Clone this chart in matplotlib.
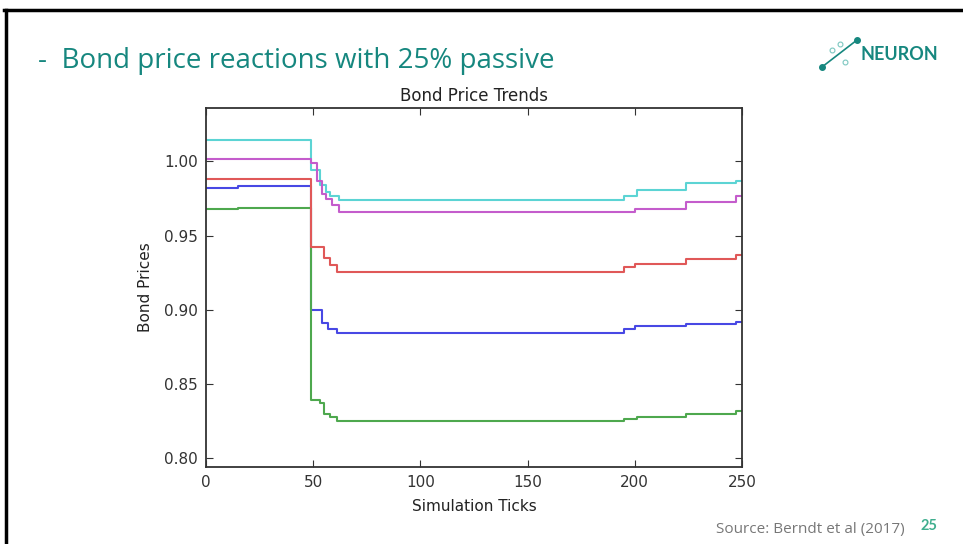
import matplotlib.pyplot as plt
from matplotlib.lines import Line2D

# slide text
slide_title = "-  Bond price reactions with 25% passive"
chart_title = "Bond Price Trends"
x_label = "Simulation Ticks"
y_label = "Bond Prices"
source = "Source: Berndt et al (2017)"
page_no = "25"
logo_text = "NEURON"

# change points of each price path (tick, price)
blue_t = [0, 15, 49, 54, 57, 61, 195, 200, 224, 247, 250]
blue_v = [0.9823, 0.9834, 0.8997, 0.8910, 0.8870, 0.8842, 0.8873, 0.8889, 0.8907, 0.8918, 0.8918]

green_t = [0, 15, 49, 53, 55, 58, 61, 195, 201, 224, 247, 250]
green_v = [0.9677, 0.9688, 0.8390, 0.8370, 0.8300, 0.8278, 0.8251, 0.8263, 0.8278, 0.8294, 0.8316, 0.8316]

red_t = [0, 49, 55, 58, 61, 195, 200, 224, 247, 250]
red_v = [0.9879, 0.9423, 0.9347, 0.9300, 0.9255, 0.9288, 0.9310, 0.9345, 0.9367, 0.9367]

cyan_t = [0, 49, 53, 56, 58, 62, 195, 201, 224, 247, 250]
cyan_v = [1.0141, 0.9940, 0.9838, 0.9793, 0.9770, 0.9742, 0.9770, 0.9810, 0.9857, 0.9867, 0.9867]

magenta_t = [0, 49, 52, 54, 56, 59, 62, 200, 224, 247, 250]
magenta_v = [1.0018, 0.9986, 0.9870, 0.9780, 0.9749, 0.9704, 0.9659, 0.9681, 0.9726, 0.9767, 0.9767]

x_ticks = [0, 50, 100, 150, 200, 250]
y_ticks = [0.80, 0.85, 0.90, 0.95, 1.00]

teal = "#16877f"

fig = plt.figure(figsize=(9.63, 5.44), dpi=100)
fig.patch.set_facecolor("white")

ax = fig.add_axes([206 / 963, 1 - 467 / 544, (742 - 206) / 963, (467 - 108) / 544])

series = [
    (blue_t, blue_v, "#4848e4"),
    (green_t, green_v, "#4ea84e"),
    (red_t, red_v, "#e05858"),
    (cyan_t, cyan_v, "#5cd4d4"),
    (magenta_t, magenta_v, "#c45ccc"),
]
for t, v, c in series:
    ax.step(t, v, where="post", color=c, lw=1.5)

ax.set_xlim(0, 250)
ax.set_ylim(0.794, 1.036)
ax.set_xticks(x_ticks)
ax.set_yticks(y_ticks)
ax.set_yticklabels([f"{v:.2f}" for v in y_ticks])
ax.tick_params(direction="in", top=True, right=True, length=5, width=0.8,
               labelsize=11, colors="#333333", pad=6)
for s in ax.spines.values():
    s.set_color("#333333")
    s.set_linewidth(1.3)
ax.set_title(chart_title, fontsize=12, color="#222222", pad=5)
ax.set_xlabel(x_label, fontsize=11, color="#222222", labelpad=6)
ax.set_ylabel(y_label, fontsize=11, color="#222222", labelpad=8)

# slide frame
fig.add_artist(Line2D([4 / 963, 1], [1 - 10 / 544, 1 - 10 / 544], color="black", lw=2.5,
                      transform=fig.transFigure))
fig.add_artist(Line2D([5.5 / 963, 5.5 / 963], [0, 1 - 10 / 544], color="black", lw=2.5,
                      transform=fig.transFigure))

# slide texts
fig.text(38 / 963, 1 - 61 / 544, slide_title, fontsize=20, color=teal,
         family="Open Sans", va="center", ha="left")
fig.text(905 / 963, 1 - 529 / 544, source, fontsize=11, color="#777777",
         family="Open Sans", va="center", ha="right")
fig.text(920 / 963, 1 - 526 / 544, page_no, fontsize=10.5, color="#3fae8e",
         family="Lato", weight="bold", va="center", ha="left")

# logo
fig.text(860 / 963, 1 - 54 / 544, logo_text, fontsize=13, color=teal,
         family="Lato", weight="bold", va="center", ha="left")
fig.add_artist(Line2D([822 / 963, 857 / 963], [1 - 67 / 544, 1 - 40 / 544], color=teal,
                      lw=1.2, transform=fig.transFigure))
fig.add_artist(Line2D([822 / 963, 857 / 963], [1 - 67 / 544, 1 - 40 / 544], color=teal,
                      lw=0, marker="o", ms=4, transform=fig.transFigure))
fig.add_artist(Line2D([832 / 963, 840 / 963, 845 / 963], [1 - 50 / 544, 1 - 44 / 544, 1 - 62 / 544],
                      color="#7cc7c0", lw=0, marker="o", ms=3.5, mfc="white", mew=0.8,
                      transform=fig.transFigure))

fig.savefig("out.png", dpi=100)
